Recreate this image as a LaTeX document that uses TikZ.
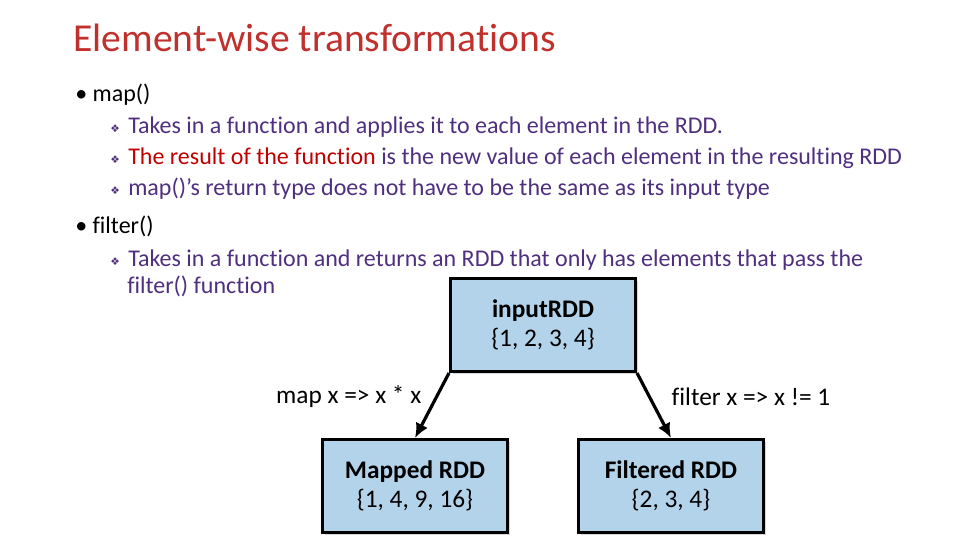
\documentclass[tikz,border=0pt]{standalone}
\usepackage{fontspec}
\setmainfont[Ligatures=NoCommon]{Carlito}
\newfontfamily\dejavu{DejaVu Sans}
\usetikzlibrary{shadows}
\usetikzlibrary{arrows.meta}
\definecolor{ttl}{HTML}{C0302C}
\definecolor{pur}{HTML}{4F2F7F}
\definecolor{red1}{HTML}{C00000}
\definecolor{boxb}{HTML}{B2D3EA}
\tikzset{
 txt/.style={anchor=west,inner sep=0pt,font=\fontsize{18}{20}\selectfont},
 sub/.style={anchor=west,inner sep=0pt,font=\fontsize{18}{19}\selectfont,text=pur},
 dia/.style={anchor=west,inner sep=0pt,font=\fontsize{8}{9}\selectfont\dejavu,text=pur},
 rdd/.style={draw=black,line width=2pt,fill=boxb,minimum width=139pt,minimum height=70pt,align=center,font=\fontsize{19}{22}\selectfont,drop shadow={shadow xshift=2pt,shadow yshift=-2pt,fill=gray!60}},
 lab/.style={font=\fontsize{19}{20}\selectfont},
 arr/.style={-{Latex[length=11pt,width=10pt]},line width=2.4pt}
}
\begin{document}
\begin{tikzpicture}[x=0.75pt,y=-0.75pt]
\useasboundingbox (0,0) rectangle (960,540);
\node[anchor=west,inner sep=0pt,text=ttl,font=\fontsize{29.7}{31}\selectfont] (t) at (73,38) {Element-wise transformations};
\node[txt] (b1) at (75,95) {\textbullet\ map()};
\node[dia] (d1) at (110,129) {❖};
\node[sub] (s1) at (128,127) {Takes in a function and applies it to each element in the RDD.};
\node[dia] (d2) at (110,160) {❖};
\node[sub] (s2) at (128,158) {\textcolor{red1}{The result of the function} is the new value of each element in the resulting RDD};
\node[dia] (d3) at (110,191) {❖};
\node[sub] (s3) at (128,189) {map()’s return type does not have to be the same as its input type};
\node[txt] (b2) at (75,226) {\textbullet\ filter()};
\node[dia] (d4) at (110,262) {❖};
\node[sub] (s4) at (128,260) {Takes in a function and returns an RDD that only has elements that pass the};
\node[sub] (s5) at (127,286) {filter() function};
\node[rdd] (in) at (543,325) {\textbf{inputRDD}\\\{1, 2, 3, 4\}};
\node[rdd] (mp) at (415,486) {\textbf{Mapped RDD}\\\{1, 4, 9, 16\}};
\node[rdd] (fl) at (671,486) {\textbf{Filtered RDD}\\\{2, 3, 4\}};
\draw[arr] (in.south west) -- (mp.north);
\draw[arr] (in.south east) -- (fl.north);
\node[lab,anchor=east] (l1) at (426,397) {map x =\textgreater{} x * x};
\node[lab,anchor=west] (l2) at (667,397) {filter x =\textgreater{} x != 1};
\end{tikzpicture}
\end{document}
